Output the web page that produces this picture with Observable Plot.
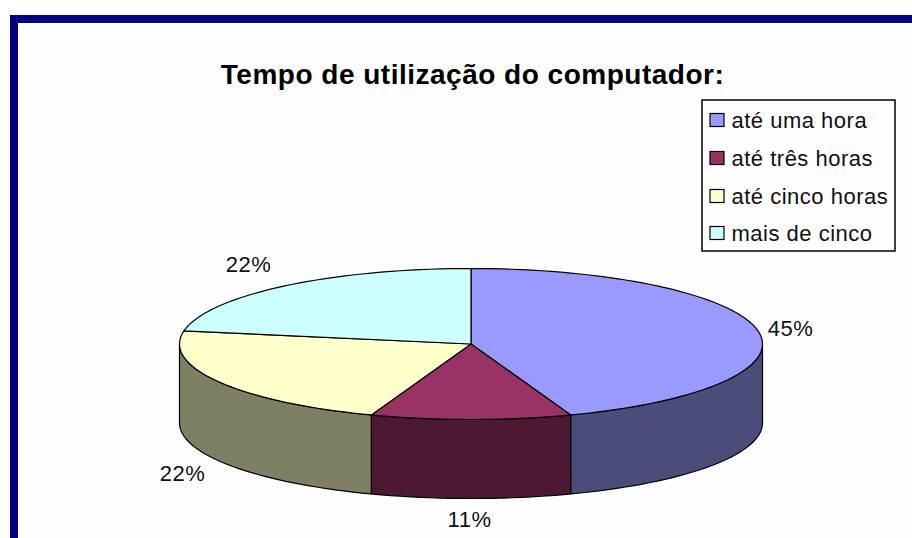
<!DOCTYPE html>
<html><head><meta charset="utf-8">
<script src="https://cdn.jsdelivr.net/npm/d3@7"></script>
<script src="https://cdn.jsdelivr.net/npm/@observablehq/plot@0.6"></script>
<style>
html,body{margin:0;padding:0;background:#fff;overflow:hidden}
#wrap{position:relative;width:912px;height:538px;overflow:hidden}
#wrap svg{position:absolute;left:0;top:0;background:transparent}
#wrap svg text{letter-spacing:.5px}
#frame{position:absolute;left:10px;top:15px;right:-20px;bottom:-20px;border:8.5px solid #000080;background:#fff;box-sizing:border-box}
#panel{position:absolute;left:38px;top:33px;right:0;bottom:0;background:#fdfdfd}
</style></head><body>
<div id="wrap"><div id="frame"></div><div id="panel"></div></div>
<script>
const titleText = "Tempo de utilização do computador:";
const categories = ["até uma hora", "até três horas", "até cinco horas", "mais de cinco"];
const shares = [44.4, 11.1, 22.2, 22.2];
const pctLabels = ["45%", "11%", "22%", "22%"];
const topColors = ["#9999ff", "#993366", "#ffffcc", "#ccffff"];
const sideColors = ["#4c4c7b", "#4b1a32", "#7f7f64", "#66807f"];

// pie geometry in pixel space, driven by the shares
const cx = 470.5, cy = 343.5, rx = 291.5, ry = 75.5, depth = 79;
const total = d3.sum(shares);
const cum = d3.cumsum(shares);
const ang = i => (i < 0 ? 0 : cum[i] / total * 360);
const pt = (t, dy = 0) => {
  const r = t * Math.PI / 180;
  return [cx + rx * Math.sin(r), cy - ry * Math.cos(r) + dy];
};
const arc = (a, b, dy = 0) => {
  const n = Math.max(2, Math.ceil((b - a) / 2));
  return d3.range(n + 1).map(k => pt(a + (b - a) * k / n, dy));
};

const polys = [];
let pid = 0;
const pushPoly = (pts, fill) => {
  pid++;
  pts.forEach(([x, y]) => polys.push({id: pid, x, y, fill}));
};
// side walls (only the front half, 90°–270°, is visible)
categories.forEach((c, i) => {
  const a = Math.max(ang(i - 1), 90), b = Math.min(ang(i), 270);
  if (b > a) {
    const top = arc(a, b), bot = arc(a, b, depth).reverse();
    pushPoly([...top, ...bot, top[0]], sideColors[i]);
  }
});
// top slices
categories.forEach((c, i) => {
  const a = ang(i - 1), b = ang(i);
  pushPoly([[cx, cy], ...arc(a, b), [cx, cy]], topColors[i]);
});

const pctX = [790, 469, 182, 248], pctY = [328, 519, 473, 264];
const pctData = pctLabels.map((label, i) => ({label, x: pctX[i], y: pctY[i]}));
const legY = [120, 158, 196, 233];
const legendData = categories.map((label, i) => ({label, y: legY[i], fill: topColors[i]}));

const plot = Plot.plot({
  width: 912, height: 538,
  margin: 0,
  x: {domain: [0, 912], range: [0, 912], axis: null},
  y: {domain: [0, 538], range: [0, 538], axis: null},
  marks: [
    Plot.line(polys, {x: "x", y: "y", z: "id", fill: "fill", stroke: "#000", strokeWidth: 1.2, curve: "linear", strokeLinejoin: "round"}),
    Plot.text(pctData, {x: "x", y: "y", text: "label", fontSize: 22, fontFamily: "Liberation Sans", fill: "#111"}),
    Plot.text([titleText], {x: [472], y: [75], text: d => d, fontSize: 28, fontWeight: "bold", fontFamily: "Liberation Sans", fill: "#000"}),
    Plot.rect([0], {x1: [702], x2: [895], y1: [100], y2: [251], fill: "#fdfdfd", stroke: "#000", strokeWidth: 1.5}),
    Plot.rect(legendData, {x1: 710, x2: 724, y1: d => d.y - 6.5, y2: d => d.y + 6.5, fill: "fill", stroke: "#000", strokeWidth: 1.2}),
    Plot.text(legendData, {x: 731, y: "y", text: "label", textAnchor: "start", fontSize: 22, fontFamily: "Liberation Sans", fill: "#111"})
  ]
});
document.getElementById("wrap").appendChild(plot);
</script>
</body></html>
